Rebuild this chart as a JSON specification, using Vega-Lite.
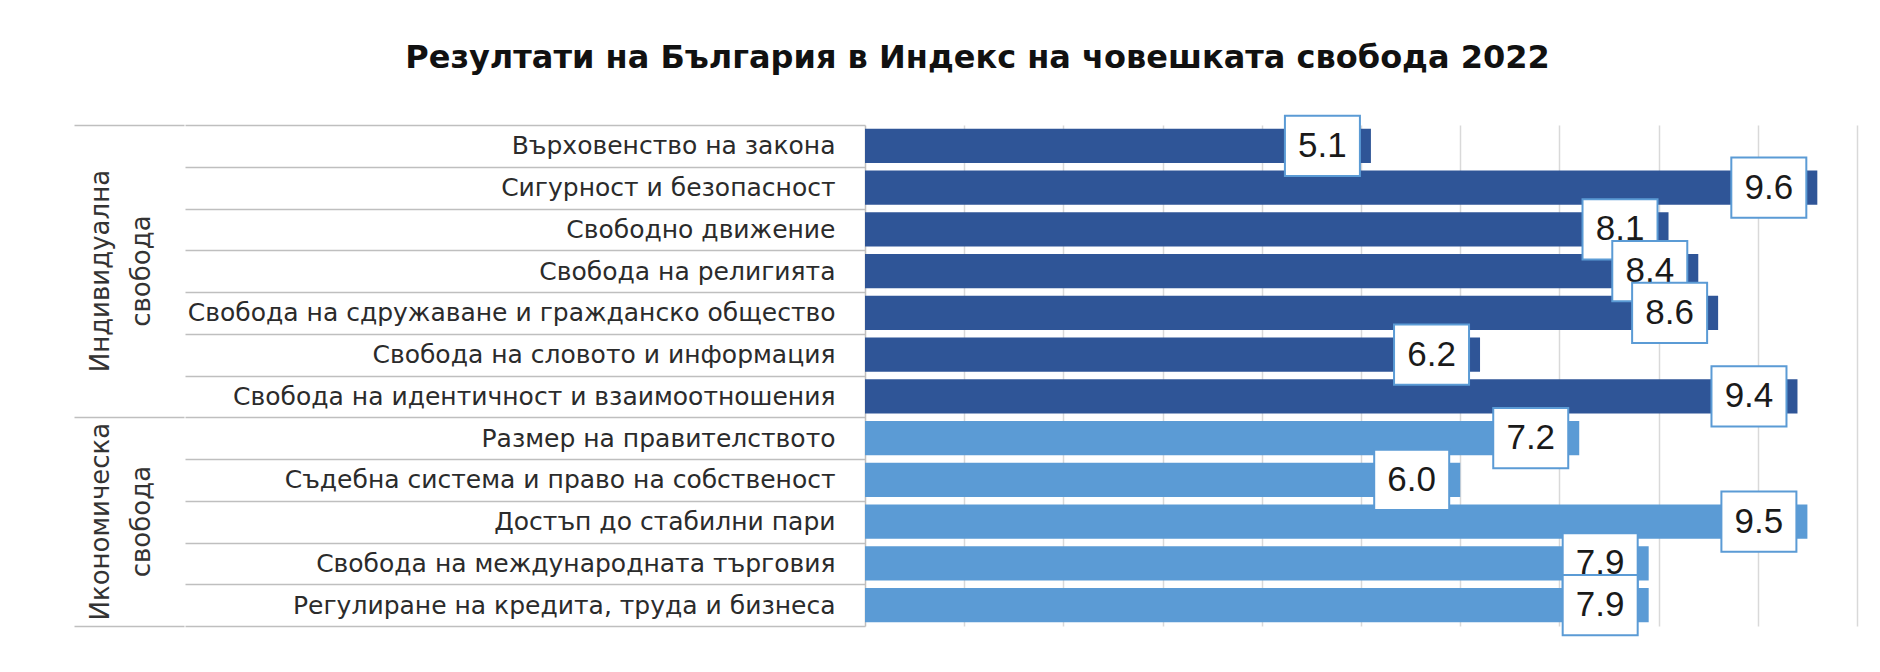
{
  "$schema": "https://vega.github.io/schema/vega-lite/v6.json",
  "data": {"values": [
    {"rank": 1, "item": "Върховенство на закона", "group": "Индивидуална свобода", "value": 5.1},
    {"rank": 2, "item": "Сигурност и безопасност", "group": "Индивидуална свобода", "value": 9.6},
    {"rank": 3, "item": "Свободно движение", "group": "Индивидуална свобода", "value": 8.1},
    {"rank": 4, "item": "Свобода на религията", "group": "Индивидуална свобода", "value": 8.4},
    {"rank": 5, "item": "Свобода на сдружаване и гражданско общество", "group": "Индивидуална свобода", "value": 8.6},
    {"rank": 6, "item": "Свобода на словото и информация", "group": "Индивидуална свобода", "value": 6.2},
    {"rank": 7, "item": "Свобода на идентичност и взаимоотношения", "group": "Индивидуална свобода", "value": 9.4},
    {"rank": 8, "item": "Размер на правителството", "group": "Икономическа свобода", "value": 7.2},
    {"rank": 9, "item": "Съдебна система и право на собственост", "group": "Икономическа свобода", "value": 6.0},
    {"rank": 10, "item": "Достъп до стабилни пари", "group": "Икономическа свобода", "value": 9.5},
    {"rank": 11, "item": "Свобода на международната търговия", "group": "Икономическа свобода", "value": 7.9},
    {"rank": 12, "item": "Регулиране на кредита, труда и бизнеса", "group": "Икономическа свобода", "value": 7.9}
  ]},
  "title": {
    "text": "Резултати на България в Индекс на човешката свобода 2022",
    "font": "DejaVu Sans", "fontSize": 32, "fontWeight": "bold", "color": "#111111",
    "anchor": "middle", "offset": 38, "dx": 12
  },
  "padding": {"left": 74, "right": 24, "top": 42, "bottom": 50},
  "spacing": 0,
  "hconcat": [
    {
      "width": 110,
      "height": 501,
      "transform": [{"aggregate": [{"op": "mean", "field": "rank", "as": "mid"}], "groupby": ["group"]}],
      "mark": {"type": "text", "angle": 270, "lineBreak": " ", "font": "DejaVu Sans", "fontSize": 26, "lineHeight": 41, "color": "#333333", "align": "center", "baseline": "middle", "xOffset": -28},
      "encoding": {
        "y": {"field": "mid", "type": "quantitative",
              "scale": {"domain": [0.5, 12.5], "reverse": true, "nice": false, "zero": false},
              "axis": {"values": [0.5, 7.5, 12.5], "grid": true, "gridColor": "#bfbfbf", "gridWidth": 1.5, "labels": false, "ticks": false, "domain": false, "title": null}},
        "text": {"field": "group"}
      }
    },
    {
      "width": 992,
      "height": 501,
      "encoding": {
        "y": {"field": "item", "type": "nominal", "sort": {"field": "rank", "op": "min"},
              "scale": {"paddingInner": 0, "paddingOuter": 0},
              "axis": {"title": null, "domainColor": "#bfbfbf", "domainWidth": 1.5, "tickBand": "extent", "tickSize": 680, "tickColor": "#bfbfbf", "tickWidth": 1.5, "labelPadding": -650, "labelFont": "DejaVu Sans", "labelFontSize": 25, "labelColor": "#2b2b2b", "labelLimit": 700}},
        "x": {"field": "value", "type": "quantitative",
              "scale": {"domain": [0, 10], "nice": false},
              "axis": {"values": [1, 2, 3, 4, 5, 6, 7, 8, 9, 10], "grid": true, "gridColor": "#d9d9d9", "gridWidth": 1.5, "labels": false, "ticks": false, "domain": false, "title": null}}
      },
      "layer": [
        {
          "mark": {"type": "bar", "height": {"band": 0.82}},
          "encoding": {
            "color": {"field": "group", "type": "nominal",
                      "scale": {"domain": ["Индивидуална свобода", "Икономическа свобода"], "range": ["#2F5597", "#5B9BD5"]},
                      "legend": null}
          }
        },
        {
          "transform": [{"filter": "datum.rank != 4 && datum.rank != 5 && datum.rank != 12"}],
          "mark": {"type": "rect", "height": {"band": 1.44}, "xOffset": -86, "x2Offset": -11, "fill": "white", "stroke": "#5B9BD5", "strokeWidth": 2},
          "encoding": {"x2": {"field": "value"}}
        },
        {
          "transform": [{"filter": "datum.rank != 4 && datum.rank != 5 && datum.rank != 12"}],
          "mark": {"type": "text", "xOffset": -48.5, "font": "Liberation Sans", "fontSize": 35, "color": "#1a1a1a", "align": "center", "baseline": "middle"},
          "encoding": {"text": {"field": "value", "type": "quantitative", "format": ".1f"}}
        },
        {
          "transform": [{"filter": "datum.rank == 4 || datum.rank == 12"}],
          "mark": {"type": "rect", "height": {"band": 1.44}, "xOffset": -86, "x2Offset": -11, "fill": "white", "stroke": "#5B9BD5", "strokeWidth": 2},
          "encoding": {"x2": {"field": "value"}}
        },
        {
          "transform": [{"filter": "datum.rank == 4 || datum.rank == 12"}],
          "mark": {"type": "text", "xOffset": -48.5, "font": "Liberation Sans", "fontSize": 35, "color": "#1a1a1a", "align": "center", "baseline": "middle"},
          "encoding": {"text": {"field": "value", "type": "quantitative", "format": ".1f"}}
        },
        {
          "transform": [{"filter": "datum.rank == 5"}],
          "mark": {"type": "rect", "height": {"band": 1.44}, "xOffset": -86, "x2Offset": -11, "fill": "white", "stroke": "#5B9BD5", "strokeWidth": 2},
          "encoding": {"x2": {"field": "value"}}
        },
        {
          "transform": [{"filter": "datum.rank == 5"}],
          "mark": {"type": "text", "xOffset": -48.5, "font": "Liberation Sans", "fontSize": 35, "color": "#1a1a1a", "align": "center", "baseline": "middle"},
          "encoding": {"text": {"field": "value", "type": "quantitative", "format": ".1f"}}
        }
      ]
    }
  ],
  "config": {"view": {"stroke": null}}
}
